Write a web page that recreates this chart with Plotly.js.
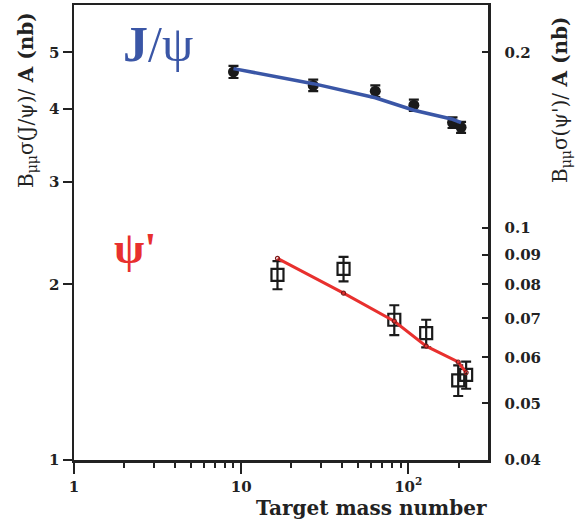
<!DOCTYPE html>
<html>
<head>
<meta charset="utf-8">
<script src="https://cdn.plot.ly/plotly-3.0.1.min.js"></script>
<style>html,body{margin:0;padding:0;background:#fff;}#chart{width:581px;height:523px;}</style>
</head>
<body>
<div id="chart"></div>
<script>
// J/psi data (left axis, nb)
const jpsiA = [9, 27, 63.5, 108, 184, 207];
const jpsiVal = [4.63, 4.39, 4.29, 4.06, 3.79, 3.72];
const jpsiErr = [0.11, 0.10, 0.10, 0.09, 0.08, 0.08];
const jpsiFitA = [9, 27, 63.5, 108, 184, 207];
const jpsiFit = [4.69, 4.42, 4.18, 3.98, 3.84, 3.79];

// psi' data (right axis, nb)
const psiA = [16.5, 41, 82.5, 128, 199, 222];
const psiVal = [0.0831, 0.0851, 0.0696, 0.0660, 0.0548, 0.0560];
const psiErr = [0.0046, 0.0041, 0.0041, 0.0036, 0.0033, 0.0030];
const psiFit = [0.0887, 0.0773, 0.0692, 0.0627, 0.0589, 0.0565];

// axis ticks
const xTickVals = [1, 10, 100];
const xTickText = ['1', '10', '10<sup>2</sup>'];
const xMinor = [2,3,4,5,6,7,8,9,20,30,40,50,60,70,80,90,200];
const yLeftTicks = [1, 2, 3, 4, 5];
const yRightTicks = [0.04, 0.05, 0.06, 0.07, 0.08, 0.09, 0.1, 0.2];
const yRightText = ['0.04', '0.05', '0.06', '0.07', '0.08', '0.09', '0.1', '0.2'];
const yRightMajor = [0.1, 0.2];

const blue = '#3a56a6';
const red = '#e8302e';
const axc = '#222';
const tfont = {family: 'DejaVu Serif', size: 15, color: '#222', weight: 'bold'};

const traces = [
  {x: jpsiA, y: jpsiVal, type: 'scatter', mode: 'markers', xaxis: 'x', yaxis: 'y',
   marker: {symbol: 'circle', size: 11, color: '#1a1a1a'},
   error_y: {type: 'data', array: jpsiErr, visible: true, color: '#1a1a1a', thickness: 2.2, width: 5}},
  {x: jpsiFitA, y: jpsiFit, type: 'scatter', mode: 'lines', xaxis: 'x', yaxis: 'y',
   line: {color: blue, width: 3.5}},
  {x: psiA, y: psiVal, type: 'scatter', mode: 'markers', xaxis: 'x', yaxis: 'y2',
   marker: {symbol: 'square-open', size: 12, color: '#1a1a1a', line: {width: 2.2, color: '#1a1a1a'}},
   error_y: {type: 'data', array: psiErr, visible: true, color: '#1a1a1a', thickness: 2.2, width: 5}},
  {x: psiA, y: psiFit, type: 'scatter', mode: 'lines+markers', xaxis: 'x', yaxis: 'y2',
   line: {color: red, width: 3},
   marker: {symbol: 'circle-open', size: 4, color: '#7a1a1a', line: {width: 1.2}}}
];

const yTop = Math.log10(6.03);
const layout = {
  width: 581, height: 523,
  margin: {l: 74, r: 93, t: 5, b: 63},
  paper_bgcolor: '#fff', plot_bgcolor: '#fff',
  showlegend: false,
  xaxis: {type: 'log', range: [0, Math.log10(300)], showgrid: false, zeroline: false,
    showline: true, linecolor: axc, linewidth: 2.5, mirror: true,
    tickmode: 'array', tickvals: xTickVals, ticktext: xTickText,
    ticks: 'outside', ticklen: 11, tickwidth: 2, tickcolor: axc, tickfont: tfont,
    minor: {tickmode: 'array', tickvals: xMinor, ticks: 'outside', ticklen: 5, tickwidth: 2, tickcolor: axc, showgrid: false}},
  yaxis: {type: 'log', range: [0, yTop], showgrid: false, zeroline: false,
    showline: true, linecolor: axc, linewidth: 2.5,
    tickmode: 'array', tickvals: yLeftTicks, ticktext: yLeftTicks.map(String),
    ticks: 'outside', ticklen: 9, tickwidth: 2, tickcolor: axc, tickfont: tfont},
  yaxis2: {type: 'log', overlaying: 'y', side: 'right', anchor: 'x',
    range: [Math.log10(0.04), Math.log10(0.04) + yTop], showgrid: false, zeroline: false,
    showline: true, linecolor: axc, linewidth: 2.5,
    tickmode: 'array', tickvals: yRightTicks, ticktext: yRightText,
    ticks: 'inside', ticklen: 6, tickwidth: 2, tickcolor: axc, tickfont: tfont, ticklabelstandoff: 11},
  yaxis3: {type: 'log', overlaying: 'y', side: 'right', anchor: 'x',
    range: [Math.log10(0.04), Math.log10(0.04) + yTop], showgrid: false, zeroline: false,
    showline: false, tickmode: 'array', tickvals: yRightMajor, showticklabels: false,
    ticks: 'inside', ticklen: 12, tickwidth: 2, tickcolor: axc},
  annotations: [
    {xref: 'paper', yref: 'paper', x: (371 - 74) / 414, y: (460 - 508) / 455, xanchor: 'center', yanchor: 'middle',
     text: 'Target mass number', showarrow: false,
     font: {family: 'DejaVu Serif', size: 20, color: '#222', weight: 'bold'}},
    {xref: 'paper', yref: 'paper', x: (27 - 74) / 414, y: (460 - 100) / 455, xanchor: 'center', yanchor: 'middle',
     text: 'B<sub>μμ</sub>σ(J/ψ)/ <b>A (nb)</b>', textangle: -90, showarrow: false,
     font: {family: 'DejaVu Serif', size: 20, color: '#222'}},
    {xref: 'paper', yref: 'paper', x: (561 - 74) / 414, y: (460 - 100) / 455, xanchor: 'center', yanchor: 'middle',
     text: 'B<sub>μμ</sub>σ(ψ\')/ <b>A (nb)</b>', textangle: -90, showarrow: false,
     font: {family: 'DejaVu Serif', size: 20, color: '#222'}},
    {xref: 'paper', yref: 'paper', x: (158 - 74) / 414, y: (460 - 44) / 455, xanchor: 'center', yanchor: 'middle',
     text: '<b>J</b>/ψ', showarrow: false,
     font: {family: 'Liberation Serif', size: 50, color: blue}},
    {xref: 'paper', yref: 'paper', x: (135 - 74) / 414, y: (460 - 248) / 455, xanchor: 'center', yanchor: 'middle',
     text: '<b>ψ\'</b>', showarrow: false,
     font: {family: 'Liberation Serif', size: 44, color: red}}
  ]
};

Plotly.newPlot('chart', traces, layout, {displayModeBar: false, staticPlot: true});
</script>
</body>
</html>
